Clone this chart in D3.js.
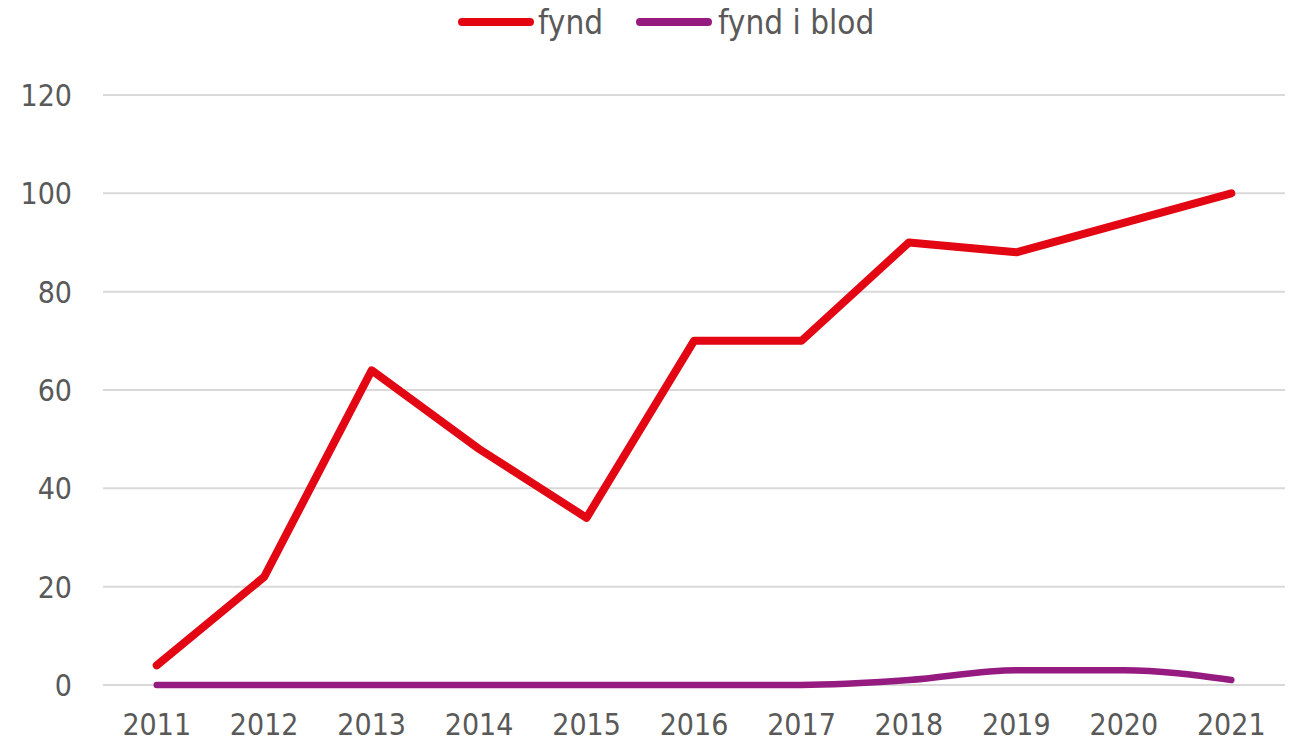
<!DOCTYPE html>
<html><head><meta charset="utf-8">
<script src="https://cdn.jsdelivr.net/npm/d3@7"></script>
<style>
html,body{margin:0;padding:0;background:#fff;}
svg{display:block;}
text{font-family:"DejaVu Sans Condensed","DejaVu Sans",sans-serif;fill:#595959;}
</style></head>
<body>
<script>
const years = ["2011","2012","2013","2014","2015","2016","2017","2018","2019","2020","2021"];
const fynd = [4,22,64,48,34,70,70,90,88,94,100];
const fyndIBlod = [0,0,0,0,0,0,0,1,3,3,1];
const yTicks = [0,20,40,60,80,100,120];
const seriesNames = ["fynd","fynd i blod"];
const seriesColors = ["#e30613","#961b81"];

const W = 1291, H = 747;
const m = {left:103, right:6, top:95, bottom:62};
const svg = d3.select("body").append("svg").attr("width",W).attr("height",H);

const x = d3.scaleBand().domain(years).range([m.left, W-m.right]).padding(0);
const y = d3.scaleLinear().domain([0,120]).range([H-m.bottom, m.top]);
const cx = d => x(d) + x.bandwidth()/2;

// grid
svg.append("g").selectAll("line").data(yTicks).join("line")
  .attr("x1", m.left).attr("x2", W-m.right)
  .attr("y1", d=>y(d)).attr("y2", d=>y(d))
  .attr("stroke","#d9d9d9").attr("stroke-width",2);

// y axis labels
const yAxis = d3.axisLeft(y).tickValues(yTicks).tickSize(0).tickPadding(0);
const gy = svg.append("g").attr("transform",`translate(72,0)`).call(yAxis);
gy.select(".domain").remove();
gy.selectAll("text").style("font-size","30px").attr("dy","0.35em").attr("fill","#595959");

// x axis labels
const xAxis = d3.axisBottom(x).tickSize(0).tickPadding(0);
const gx = svg.append("g").attr("transform",`translate(0,${H-m.bottom+29})`).call(xAxis);
gx.select(".domain").remove();
gx.selectAll("text").style("font-size","30px").attr("dy","0.71em").attr("fill","#595959");

// lines
const lineLin = d3.line().x((d,i)=>cx(years[i])).y(d=>y(d));
const lineSmooth = d3.line().x((d,i)=>cx(years[i])).y(d=>y(d)).curve(d3.curveMonotoneX);
svg.append("path").datum(fyndIBlod).attr("d",lineSmooth)
  .attr("fill","none").attr("stroke",seriesColors[1]).attr("stroke-width",6.5)
  .attr("stroke-linecap","round").attr("stroke-linejoin","round");
svg.append("path").datum(fynd).attr("d",lineLin)
  .attr("fill","none").attr("stroke",seriesColors[0]).attr("stroke-width",8)
  .attr("stroke-linecap","round").attr("stroke-linejoin","round");

// legend
const leg = [{x:462, tx:538},{x:640, tx:718}];
seriesNames.forEach((n,i)=>{
  svg.append("line").attr("x1",leg[i].x).attr("x2",leg[i].x+68).attr("y1",22).attr("y2",22)
    .attr("stroke",seriesColors[i]).attr("stroke-width",8).attr("stroke-linecap","round");
  svg.append("text").attr("x",leg[i].tx).attr("y",22).attr("dy","0.35em")
    .style("font-size","33px").text(n);
});
</script>
</body></html>
